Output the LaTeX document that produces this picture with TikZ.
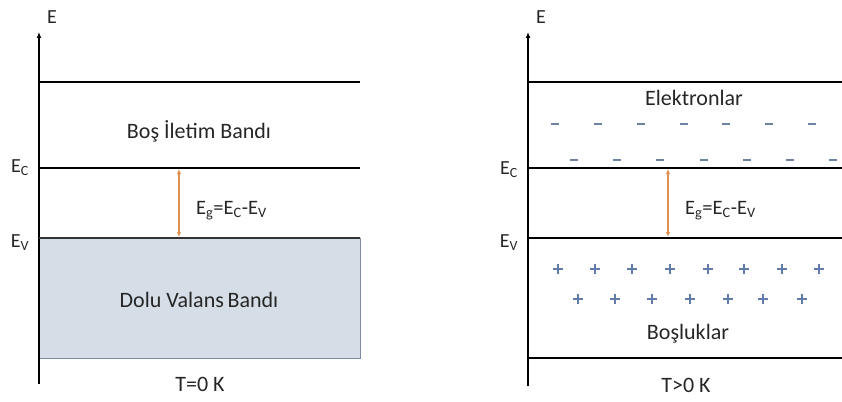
\documentclass[tikz,border=0pt]{standalone}
\usepackage{fontspec}
\setmainfont{Carlito}
\usetikzlibrary{arrows.meta}
\definecolor{bandfill}{HTML}{D5DEE7}
\definecolor{bandedge}{HTML}{7D8CA3}
\definecolor{gaparrow}{HTML}{E0904F}
\definecolor{electron}{HTML}{6E83A2}
\definecolor{hole}{HTML}{627BAA}
\tikzset{
  axis/.style={line width=1.3pt, -{Latex[length=6pt,width=5pt]}},
  level/.style={line width=1.1pt},
  gap/.style={draw=gaparrow, line width=1.1pt, {Latex[length=5pt,width=4.5pt]}-{Latex[length=5pt,width=4.5pt]}},
  lbl/.style={font=\fontsize{22}{26}\selectfont, inner sep=0pt, text=black!85},
  elbl/.style={font=\fontsize{20}{24}\selectfont, inner sep=0pt, text=black!85},
  eglbl/.style={font=\fontsize{20.5}{24}\selectfont, inner sep=0pt, text=black!85},
  minus/.style={draw=electron, line width=1.6pt},
  plus/.style={draw=hole, line width=1.3pt},
}
\begin{document}
\begin{tikzpicture}[x=1pt, y=-1pt]
\useasboundingbox (0,0) rectangle (842,401);

% ---- left panel: T = 0 K ----
\fill[bandfill, draw=bandedge, line width=1pt] (39,238) rectangle (360,358);
\coordinate (la0) at (39,384);
\coordinate (la1) at (39,32);
\draw[axis] (la0) -- (la1);
\node[elbl] (lE) at (52,17) {E};
\coordinate (lt0) at (39,82);  \coordinate (lt1) at (360,82);
\coordinate (lc0) at (39,168); \coordinate (lc1) at (360,168);
\coordinate (lv0) at (39,238); \coordinate (lv1) at (360,238);
\draw[level] (lt0) -- (lt1);
\draw[level] (lc0) -- (lc1);
\draw[level, draw=black!80] (lv0) -- (lv1);
\node[elbl] (lEc) at (20,168) {E\textsubscript{C}};
\node[elbl] (lEv) at (20,243) {E\textsubscript{V}};
\coordinate (lg0) at (179,169);
\coordinate (lg1) at (179,237);
\draw[gap] (lg0) -- (lg1);
\node[eglbl, anchor=west] (lEg) at (196,211) {E\textsubscript{g}=E\textsubscript{C}-E\textsubscript{V}};
\node[lbl] (lcb) at (199,131) {Boş İletim Bandı};
\node[lbl] (lvb) at (199,300) {Dolu Valans\,Bandı};
\node[lbl] (lT) at (200,384) {T=0 K};

% ---- right panel: T > 0 K ----
\coordinate (ra0) at (528,386);
\coordinate (ra1) at (528,32);
\draw[axis] (ra0) -- (ra1);
\node[elbl] (rE) at (541,17) {E};
\coordinate (rt0) at (528,82);  \coordinate (rt1) at (842,82);
\coordinate (rc0) at (528,168); \coordinate (rc1) at (842,168);
\coordinate (rv0) at (528,238); \coordinate (rv1) at (842,238);
\coordinate (rb0) at (528,358); \coordinate (rb1) at (842,358);
\draw[level] (rt0) -- (rt1);
\draw[level] (rc0) -- (rc1);
\draw[level] (rv0) -- (rv1);
\draw[level] (rb0) -- (rb1);
\node[elbl] (rEc) at (509,170) {E\textsubscript{C}};
\node[elbl] (rEv) at (509,243) {E\textsubscript{V}};
\coordinate (rg0) at (668,169);
\coordinate (rg1) at (668,237);
\draw[gap] (rg0) -- (rg1);
\node[eglbl, anchor=west] (rEg) at (685,211) {E\textsubscript{g}=E\textsubscript{C}-E\textsubscript{V}};
\node[lbl] (rel) at (694,98) {Elektronlar};
\node[lbl] (rho) at (688,334) {Boşluklar};
\node[lbl] (rT) at (686,385) {T>0 K};

% electrons in the conduction band
\foreach \x in {555,598,641,684,726,769,812}
  \draw[minus] (\x-4,124) -- (\x+4,124);
\foreach \x in {574,617,660,704,747,790,833}
  \draw[minus] (\x-4,160) -- (\x+4,160);
% holes in the valence band
\foreach \x in {558,595,632,670,708,744,782,819}
  \draw[plus] (\x-5,269) -- (\x+5,269) (\x,264) -- (\x,274);
\foreach \x in {578,615,652,690,728,763,802}
  \draw[plus] (\x-5,299) -- (\x+5,299) (\x,294) -- (\x,304);
\end{tikzpicture}
\end{document}
